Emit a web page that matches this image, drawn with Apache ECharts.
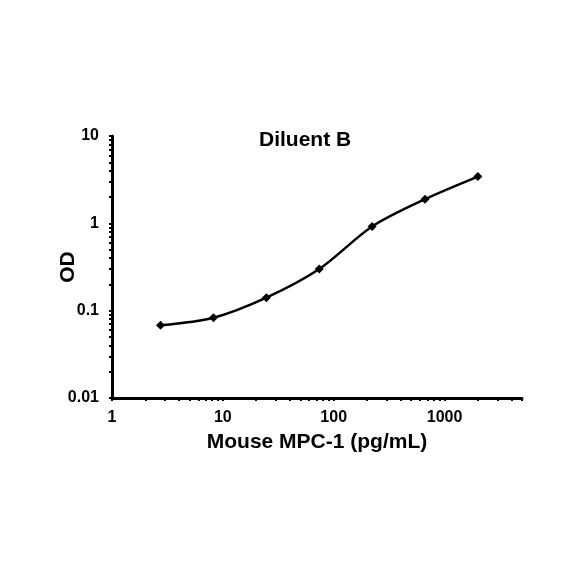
<!DOCTYPE html>
<html>
<head>
<meta charset="utf-8">
<script src="https://cdn.jsdelivr.net/npm/echarts@6/dist/echarts.min.js"></script>
<style>
	html, body { margin: 0; padding: 0; background: #fff; }
	#main { width: 584px; height: 584px; }
</style>
</head>
<body>
<div id="main"></div>
<script>
	// standard curve, 3-fold dilutions
	var conc = [2.74, 8.23, 24.69, 74.07, 222.2, 666.7, 2000];
	var od = [0.068, 0.083, 0.141, 0.30, 0.92, 1.89, 3.43];
	var xLabels = [1, 10, 100, 1000];
	var yLabels = [0.01, 0.1, 1, 10];

	var xTicks = [];
	for (var d = 1; d <= 1000; d *= 10) {
		for (var k = 1; k <= 9; k++) {
			if (k * d <= 5000) xTicks.push(k * d);
		}
	}
	var yTicks = [];
	for (var e = 0.01; e < 10; e *= 10) {
		for (var j = 1; j <= 9; j++) yTicks.push(+(j * e).toPrecision(3));
	}
	yTicks.push(10);

	var font = 'Liberation Sans, Arial, sans-serif';
	var myChart = echarts.init(document.getElementById('main'));

	var option = {
		animation: false,
		title: {
			text: 'Diluent B',
			left: 254,
			top: 125,
			textStyle: { fontFamily: font, fontWeight: 'bold', fontSize: 21, color: '#000' }
		},
		grid: { left: 112, right: 62, top: 136, bottom: 186 },
		xAxis: {
			type: 'log',
			min: 1,
			max: 5000,
			name: 'Mouse MPC-1 (pg/mL)',
			nameLocation: 'middle',
			nameGap: 34,
			nameTextStyle: { fontFamily: font, fontWeight: 'bold', fontSize: 21, color: '#000' },
			axisLine: { lineStyle: { color: '#000', width: 3 } },
			axisTick: { show: true, length: 3, customValues: xTicks, lineStyle: { color: '#000', width: 2 } },
			axisLabel: {
				customValues: xLabels,
				margin: 12,
				fontFamily: font, fontWeight: 'bold', fontSize: 16, color: '#000',
				formatter: function (v) { return String(Math.round(v)); }
			},
			splitLine: { show: false }
		},
		yAxis: {
			type: 'log',
			min: 0.01,
			max: 10,
			name: 'OD',
			nameLocation: 'middle',
			nameGap: 33,
			nameMoveOverlap: false,
			nameTextStyle: { fontFamily: font, fontWeight: 'bold', fontSize: 21, color: '#000' },
			axisLine: { show: true, lineStyle: { color: '#000', width: 3 } },
			axisTick: { show: true, length: 3, customValues: yTicks, lineStyle: { color: '#000', width: 2 } },
			axisLabel: {
				customValues: yLabels,
				margin: 13,
				fontFamily: font, fontWeight: 'bold', fontSize: 16, color: '#000',
				formatter: function (v) { return String(+v.toPrecision(3)); }
			},
			splitLine: { show: false }
		},
		series: [{
			type: 'line',
			data: conc.map(function (c, i) { return [c, od[i]]; }),
			smooth: 0.3,
			symbol: 'diamond',
			symbolSize: 9,
			itemStyle: { color: '#000' },
			lineStyle: { color: '#000', width: 2.5 }
		}]
	};

	option && myChart.setOption(option);
</script>
</body>
</html>
